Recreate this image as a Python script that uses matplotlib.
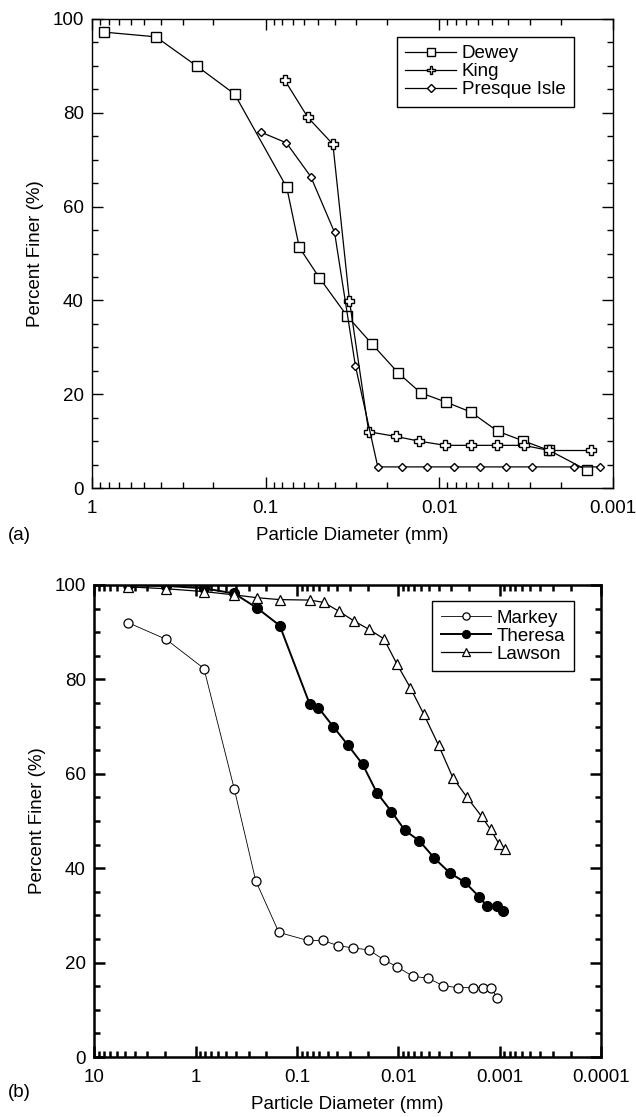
import matplotlib
matplotlib.use("Agg")
import matplotlib.pyplot as plt
from matplotlib.ticker import FixedLocator, FuncFormatter, LogLocator, MultipleLocator, NullFormatter

plt.rcParams['font.family'] = ['Liberation Sans', 'DejaVu Sans']
plt.rcParams['font.size'] = 13.5

# (a) sandy soils
dewey_d = [0.853, 0.429, 0.25, 0.151, 0.0756, 0.064, 0.049, 0.034, 0.0244, 0.0172,
           0.0128, 0.00912, 0.00658, 0.00461, 0.00331, 0.00232, 0.00141]
dewey_p = [97.2, 96.2, 90.0, 84.0, 64.1, 51.3, 44.8, 36.7, 30.7, 24.5,
           20.3, 18.3, 16.2, 12.1, 10.1, 8.0, 3.8]

king_d = [0.0778, 0.0571, 0.041, 0.0329, 0.0255, 0.0178, 0.0131, 0.00928, 0.00658,
          0.00464, 0.00327, 0.00232, 0.00134]
king_p = [87.0, 79.0, 73.3, 39.9, 12.0, 11.0, 10.0, 9.1, 9.1, 9.1, 9.1, 8.0, 8.0]

presque_d = [0.107, 0.076, 0.055, 0.0401, 0.0304, 0.0226, 0.0165, 0.0117, 0.00824,
             0.00582, 0.00412, 0.00291, 0.00167, 0.00119]
presque_p = [75.9, 73.6, 66.4, 54.5, 26.0, 4.5, 4.5, 4.5, 4.5, 4.5, 4.5, 4.5, 4.5, 4.5]

# (b) fine-grained soils
markey_d = [4.62, 1.96, 0.828, 0.416, 0.255, 0.151, 0.0787, 0.0559, 0.0394, 0.0279,
            0.0196, 0.0139, 0.0103, 0.0072, 0.0051, 0.0036, 0.0026, 0.00185, 0.00147,
            0.00122, 0.00106]
markey_p = [92.0, 88.5, 82.3, 56.8, 37.3, 26.4, 24.7, 24.7, 23.6, 23.1, 22.7, 20.6,
            19.1, 17.1, 16.7, 15.1, 14.7, 14.7, 14.7, 14.7, 12.6]

theresa_d = [4.62, 1.96, 0.828, 0.416, 0.247, 0.148, 0.0747, 0.0615, 0.0439, 0.0312,
             0.0225, 0.0163, 0.0117, 0.0086, 0.0062, 0.0044, 0.0031, 0.0022, 0.0016,
             0.00134, 0.00106, 0.00092]
theresa_p = [100.0, 99.8, 99.3, 98.2, 95.1, 91.4, 74.7, 74.0, 70.0, 66.0, 62.0, 56.0,
             52.0, 48.0, 45.8, 42.1, 39.0, 37.0, 34.0, 32.0, 32.0, 31.0]

lawson_d = [4.62, 1.96, 0.828, 0.416, 0.247, 0.148, 0.0747, 0.0543, 0.0384, 0.0275,
            0.0195, 0.0139, 0.0103, 0.0076, 0.0056, 0.0040, 0.0029, 0.0021, 0.00151,
            0.00123, 0.00101, 0.00088]
lawson_p = [99.6, 99.2, 98.6, 97.9, 97.3, 96.9, 96.8, 96.3, 94.4, 92.4, 90.6, 88.6,
            83.2, 78.2, 72.6, 66.0, 59.2, 55.0, 51.0, 48.2, 45.1, 44.1]

top_xticks = [1, 0.1, 0.01, 0.001]
bot_xticks = [10, 1, 0.1, 0.01, 0.001, 0.0001]

fig = plt.figure(figsize=(6.36, 11.17), dpi=100)
ax1 = fig.add_axes([0.1447, 0.5631, 0.819, 0.4199])
ax2 = fig.add_axes([0.1483, 0.0537, 0.7967, 0.4226])


def style_axes(ax, xlim, xticks, spine_w):
    ax.set_xscale('log')
    ax.set_xlim(*xlim)
    ax.set_ylim(0, 100)
    ax.xaxis.set_major_locator(FixedLocator(xticks))
    ax.xaxis.set_minor_locator(LogLocator(base=10, subs=range(2, 10), numticks=20))
    ax.xaxis.set_major_formatter(FuncFormatter(lambda v, p: '%g' % v))
    ax.xaxis.set_minor_formatter(NullFormatter())
    ax.yaxis.set_major_locator(MultipleLocator(20))
    ax.yaxis.set_minor_locator(MultipleLocator(5))
    ax.tick_params(which='both', direction='in', top=True, right=True, width=spine_w)
    ax.tick_params(which='major', length=8)
    ax.tick_params(which='minor', length=4)
    ax.tick_params(axis='x', which='major', pad=8.5)
    ax.tick_params(axis='y', which='major', pad=6)
    for s in ax.spines.values():
        s.set_linewidth(spine_w)
    ax.set_xlabel('Particle Diameter (mm)', labelpad=7)
    ax.set_ylabel('Percent Finer (%)', labelpad=6)


style_axes(ax1, (1, 0.001), top_xticks, 1.0)
style_axes(ax2, (10, 0.0001), bot_xticks, 1.8)

ax1.plot(dewey_d, dewey_p, color='black', lw=0.9, marker='s', ms=6.5,
         mfc='white', mec='black', mew=1.0, label='Dewey')
ax1.plot(king_d, king_p, color='black', lw=0.9, marker='P', ms=7,
         mfc='white', mec='black', mew=1.0, label='King')
ax1.plot(presque_d, presque_p, color='black', lw=0.9, marker='D', ms=4.5,
         mfc='white', mec='black', mew=1.0, label='Presque Isle')

ax2.plot(markey_d, markey_p, color='black', lw=0.6, marker='o', ms=6.5,
         mfc='white', mec='black', mew=0.9, label='Markey')
ax2.plot(theresa_d, theresa_p, color='black', lw=1.4, marker='o', ms=7,
         mfc='black', mec='black', label='Theresa')
ax2.plot(lawson_d, lawson_p, color='black', lw=0.9, marker='^', ms=6.5,
         mfc='white', mec='black', mew=0.9, label='Lawson')

for ax, anchor in ((ax1, (0.925, 0.962)), (ax2, (0.9467, 0.966))):
    leg = ax.legend(loc='upper right', bbox_to_anchor=anchor, borderaxespad=0,
                    fancybox=False, framealpha=1, edgecolor='black',
                    handlelength=2.7, handletextpad=0.3, labelspacing=0.05,
                    borderpad=0.45, markerscale=0.8)
    leg.get_frame().set_linewidth(1.0)

fig.text(0.013, 0.521, '(a)', va='center', ha='left')
fig.text(0.013, 0.0215, '(b)', va='center', ha='left')

fig.savefig('out.png', dpi=100)
